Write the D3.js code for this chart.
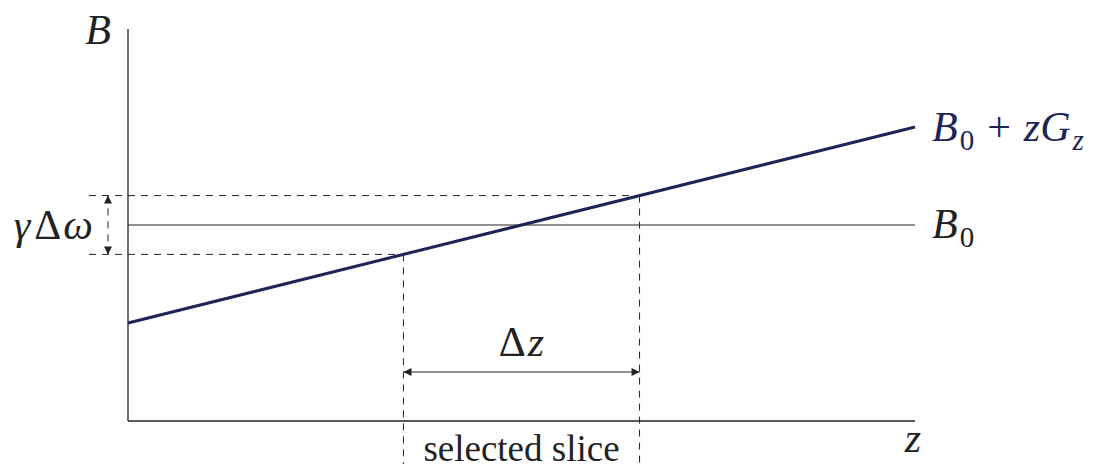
<!DOCTYPE html>
<html>
<head>
<meta charset="utf-8">
<script src="https://cdn.jsdelivr.net/npm/d3@7"></script>
<style>
  html, body { margin: 0; padding: 0; background: #fff; }
  svg { display: block; }
</style>
</head>
<body>
<svg id="chart" width="1097" height="467"></svg>
<script>
// Field along z: B(z) = B0 + z*Gz (normalised units)
const zEnds = [0, 1];
const fieldEnds = [0.25, 0.75];
const b0Level = 0.5;
const sliceBounds = [0.35, 0.65];

const svg = d3.select("#chart");
const navy = "#1c2556";
const ink = "#222";
const serif = "Liberation Serif";

const x = d3.scaleLinear().domain([0, 1]).range([128, 915]);
const y = d3.scaleLinear().domain([0, 1]).range([421, 29]);

const fieldAt = z => fieldEnds[0] + (fieldEnds[1] - fieldEnds[0]) * (z - zEnds[0]) / (zEnds[1] - zEnds[0]);

// arrow markers
const defs = svg.append("defs");
function marker(id, orient) {
  defs.append("marker")
    .attr("id", id).attr("viewBox", "0 0 10 10")
    .attr("refX", 10).attr("refY", 5)
    .attr("markerWidth", 10).attr("markerHeight", 8)
    .attr("markerUnits", "userSpaceOnUse")
    .attr("orient", orient)
    .append("path").attr("d", "M0,0 L10,5 L0,10 Z").attr("fill", ink);
}
marker("arrowEnd", "auto");
marker("arrowStart", "auto-start-reverse");

// axes (plain lines, no ticks)
svg.append("line")
  .attr("x1", x(0)).attr("x2", x(0)).attr("y1", y(1)).attr("y2", y(0))
  .attr("stroke", ink).attr("stroke-width", 1.3);
svg.append("line")
  .attr("x1", x(0)).attr("x2", x(1)).attr("y1", y(0)).attr("y2", y(0))
  .attr("stroke", ink).attr("stroke-width", 1.3);

// B0 reference level
svg.append("line")
  .attr("x1", x(0)).attr("x2", x(1)).attr("y1", y(b0Level)).attr("y2", y(b0Level))
  .attr("stroke", ink).attr("stroke-width", 1.1);

// dashed guides for the slice
const dash = "7,6";
const bLo = fieldAt(sliceBounds[0]), bHi = fieldAt(sliceBounds[1]);
svg.append("line")
  .attr("x1", 89).attr("x2", x(sliceBounds[1])).attr("y1", y(bHi)).attr("y2", y(bHi))
  .attr("stroke", ink).attr("stroke-width", 1).attr("stroke-dasharray", dash);
svg.append("line")
  .attr("x1", 89).attr("x2", x(sliceBounds[0])).attr("y1", y(bLo)).attr("y2", y(bLo))
  .attr("stroke", ink).attr("stroke-width", 1).attr("stroke-dasharray", dash);
sliceBounds.forEach(z => {
  svg.append("line")
    .attr("x1", x(z)).attr("x2", x(z)).attr("y1", y(fieldAt(z))).attr("y2", 464)
    .attr("stroke", ink).attr("stroke-width", 1).attr("stroke-dasharray", dash);
});

// gradient field line
svg.append("path")
  .datum(zEnds.map((z, i) => [z, fieldEnds[i]]))
  .attr("d", d3.line().x(d => x(d[0])).y(d => y(d[1])))
  .attr("fill", "none").attr("stroke", navy).attr("stroke-width", 3);

// gamma*delta-omega arrow
svg.append("line")
  .attr("x1", 108).attr("x2", 108).attr("y1", y(bLo)).attr("y2", y(bHi))
  .attr("stroke", ink).attr("stroke-width", 1).attr("stroke-dasharray", dash)
  .attr("marker-start", "url(#arrowStart)").attr("marker-end", "url(#arrowEnd)");

// delta-z arrow
const arrowY = 372;
svg.append("line")
  .attr("x1", x(sliceBounds[0])).attr("x2", x(sliceBounds[1])).attr("y1", arrowY).attr("y2", arrowY)
  .attr("stroke", ink).attr("stroke-width", 1.2)
  .attr("marker-start", "url(#arrowStart)").attr("marker-end", "url(#arrowEnd)");

// labels
const fs = 42, subFs = 29, subDy = 9;
function label(xp, yp, anchor, color) {
  return svg.append("text").attr("x", xp).attr("y", yp)
    .attr("font-family", serif)
    .attr("text-anchor", anchor).attr("fill", color).attr("font-size", fs);
}
label(98, 44, "middle", ink).append("tspan").attr("font-style", "italic").text("B");

const t1 = label(932, 141, "start", navy);
t1.append("tspan").attr("font-style", "italic").text("B");
t1.append("tspan").attr("font-size", subFs).attr("dy", subDy).attr("dx", 2).text("0");
t1.append("tspan").attr("dy", -subDy).attr("dx", 13).text("+");
t1.append("tspan").attr("font-style", "italic").attr("dx", 13).text("zG");
t1.append("tspan").attr("font-style", "italic").attr("font-size", subFs).attr("dy", subDy).attr("dx", 2).text("z");

const t2 = label(932, 238, "start", ink);
t2.append("tspan").attr("font-style", "italic").text("B");
t2.append("tspan").attr("font-size", subFs).attr("dy", subDy).attr("dx", 2).text("0");

const t3 = label(93, 239, "end", ink);
t3.append("tspan").attr("font-style", "italic").text("γ");
t3.append("tspan").attr("dx", 4).text("Δ");
t3.append("tspan").attr("font-style", "italic").attr("dx", 2).text("ω");

const t4 = label((x(sliceBounds[0]) + x(sliceBounds[1])) / 2, 356, "middle", ink);
t4.append("tspan").text("Δ");
t4.append("tspan").attr("font-style", "italic").attr("dx", 2).text("z");

label(913, 452, "middle", ink).append("tspan").attr("font-style", "italic").text("z");

label((x(sliceBounds[0]) + x(sliceBounds[1])) / 2, 461, "middle", ink)
  .attr("font-size", 37).text("selected slice");
</script>
</body>
</html>
